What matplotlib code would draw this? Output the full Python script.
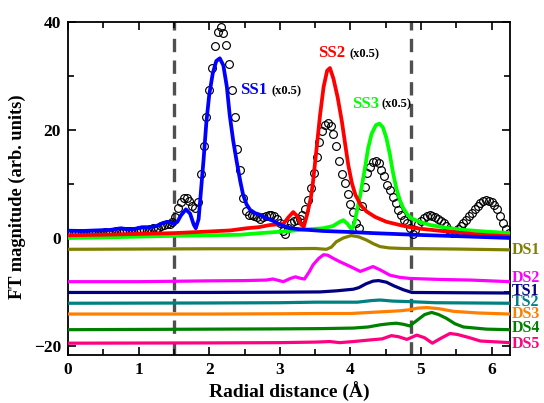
"""FT magnitude vs radial distance: experiment, single-scattering fits and offset multi-scattering paths."""

import numpy as np
import matplotlib

matplotlib.use("Agg")
import matplotlib.pyplot as plt
from matplotlib.ticker import MultipleLocator

plt.rcParams["font.family"] = ["Liberation Serif", "DejaVu Serif"]
plt.rcParams["font.weight"] = "bold"

# experimental data (open circles), sampled every 0.04 A
r_exp = np.round(np.arange(0, 157) * 0.04, 2)
ft_exp = [
    1.0, 1.0, 0.95, 0.95, 1.0, 1.0, 0.95, 0.9, 0.95, 1.0,
    1.0, 0.95, 1.0, 1.05, 1.0, 1.0, 1.1, 1.2, 1.15, 1.1,
    1.2, 1.3, 1.25, 1.2, 1.3, 1.45, 1.5, 1.4, 1.5, 1.7,
    1.8, 1.7, 1.9, 2.2, 2.4, 2.5, 2.6, 3.0, 3.8, 5.6,
    6.6, 7.4, 7.5, 6.9, 5.9, 5.5, 6.6, 11.8, 17.0, 22.5,
    27.5, 31.5, 35.5, 38.2, 39.1, 38.0, 35.8, 32.3, 27.5, 22.5,
    16.5, 12.6, 7.5, 5.0, 4.3, 4.2, 4.0, 3.8, 3.6, 3.8,
    4.1, 4.3, 4.3, 4.1, 3.6, 2.7, 1.3, 0.8, 1.8, 2.8,
    3.1, 3.3, 3.6, 4.2, 5.3, 7.0, 9.2, 12.0, 15.0, 17.8,
    19.8, 20.9, 21.4, 20.7, 19.2, 17.0, 14.3, 11.9, 10.2, 8.1,
    6.3, 4.8, 2.8, 1.8, 6.0, 9.5, 12.0, 13.2, 14.0, 14.3,
    13.9, 12.6, 11.4, 9.9, 8.9, 7.6, 6.4, 5.2, 4.3, 3.4,
    2.8, 1.8, 0.8, 1.4, 2.5, 3.1, 3.7, 4.1, 4.2, 4.1,
    3.9, 3.5, 3.2, 2.7, 2.2, 1.5, 0.9, 1.2, 1.7, 2.2,
    2.8, 3.4, 4.0, 4.6, 5.4, 6.0, 6.5, 6.9, 7.0, 6.9,
    6.7, 6.2, 5.3, 4.1, 2.8, 1.6, 1.0,
]

# single-scattering paths (scaled x0.5)
ss1_r = [0, 0.2, 0.4, 0.6, 0.75, 0.85, 0.95, 1.05, 1.15, 1.25, 1.35, 1.42, 1.5,
         1.55, 1.6, 1.67, 1.73, 1.78, 1.81, 1.85, 1.89, 1.92, 1.96, 2.0, 2.05,
         2.1, 2.15, 2.2, 2.25, 2.29, 2.34, 2.39, 2.44, 2.48, 2.53, 2.58, 2.65,
         2.72, 2.8, 2.9, 3.0, 3.14, 3.3, 3.61, 4.0, 4.32, 5.0, 5.6, 6.26]
ss1_ft = [1.35, 1.3, 1.4, 1.5, 1.8, 1.6, 1.7, 2.0, 2.0, 2.2, 2.8, 3.0, 2.6,
          3.0, 4.2, 5.3, 4.5, 2.5, 1.8, 3.5, 9.8, 14.5, 21.5, 26.5, 30.5,
          32.8, 33.3, 32.0, 28.0, 22.8, 18.0, 14.1, 10.5, 8.0, 6.2, 5.2, 4.6,
          4.3, 3.7, 3.2, 2.5, 1.8, 1.6, 1.3, 1.1, 0.9, 0.55, 0.3, 0.0]

ss2_r = [0, 0.5, 1.0, 1.5, 2.0, 2.3, 2.53, 2.7, 2.86, 2.95, 3.05, 3.12, 3.19,
         3.25, 3.3, 3.34, 3.39, 3.44, 3.47, 3.52, 3.57, 3.62, 3.67, 3.71, 3.76,
         3.82, 3.88, 3.93, 3.97, 4.02, 4.07, 4.15, 4.23, 4.35, 4.51, 4.7, 4.84,
         5.0, 5.36, 5.84, 6.26]
ss2_ft = [0.5, 0.6, 0.75, 0.9, 1.2, 1.4, 1.8, 2.0, 2.4, 2.5, 2.6, 3.8, 4.8,
          4.0, 2.5, 2.1, 4.5, 7.5, 10.4, 16.5, 22.8, 28.0, 31.0, 31.5, 29.5,
          26.0, 21.5, 17.0, 13.5, 10.2, 8.0, 6.0, 4.9, 3.9, 3.0, 2.4, 2.0,
          1.7, 1.2, 0.6, 0.3]

ss3_r = [0, 0.5, 1.0, 1.5, 2.0, 2.44, 2.72, 3.05, 3.3, 3.61, 3.75, 3.85, 3.9,
         3.96, 4.02, 4.06, 4.1, 4.14, 4.2, 4.25, 4.3, 4.36, 4.41, 4.46, 4.51,
         4.56, 4.6, 4.65, 4.7, 4.75, 4.81, 4.87, 5.0, 5.13, 5.35, 5.6, 5.9, 6.26]
ss3_ft = [0.0, 0.1, 0.25, 0.4, 0.5, 0.6, 0.9, 1.2, 1.5, 1.8, 2.2, 3.0, 3.3,
          2.6, 1.5, 3.0, 5.5, 8.0, 12.5, 16.6, 19.3, 20.9, 21.2, 20.5, 18.5,
          15.4, 12.3, 9.2, 7.0, 5.5, 4.3, 3.6, 2.9, 2.4, 1.9, 1.5, 1.2, 0.9]

# multiple-scattering paths, already shifted down
ds1_r = [0, 1.0, 2.0, 3.0, 3.5, 3.66, 3.73, 3.8, 3.9, 4.01, 4.12, 4.23, 4.33,
         4.42, 4.55, 4.75, 5.5, 6.26]
ds1_ft = [-2.1, -2.05, -2.0, -2.0, -1.95, -2.1, -1.7, -0.7, 0.0, 0.45, 0.2,
          -0.4, -1.1, -1.6, -1.85, -1.95, -2.05, -2.2]

ds2_r = [0, 1.0, 2.0, 2.5, 2.81, 2.9, 3.05, 3.15, 3.22, 3.3, 3.35, 3.42, 3.47,
         3.55, 3.62, 3.68, 3.76, 3.85, 4.0, 4.14, 4.22, 4.32, 4.42, 4.56, 4.7,
         4.84, 5.3, 5.7, 6.26]
ds2_ft = [-8.1, -8.1, -7.95, -7.9, -7.8, -7.6, -8.1, -7.5, -7.2, -7.5, -7.6,
          -6.2, -5.0, -3.8, -3.1, -3.2, -3.8, -4.4, -5.3, -6.2, -5.8, -5.3,
          -5.9, -6.9, -7.3, -7.5, -7.7, -7.8, -8.1]

ts1_r = [0, 2.0, 3.0, 3.57, 3.8, 4.04, 4.12, 4.22, 4.32, 4.4, 4.51, 4.62, 4.75,
         4.87, 5.5, 6.26]
ts1_ft = [-10.1, -10.1, -10.05, -10.0, -9.8, -9.5, -9.2, -8.5, -8.0, -7.9,
          -8.2, -8.9, -9.6, -10.1, -10.15, -10.2]

ts2_r = [0, 2.0, 3.0, 3.5, 3.8, 4.1, 4.3, 4.42, 4.6, 4.84, 5.2, 6.26]
ts2_ft = [-12.1, -12.05, -12.0, -11.9, -11.9, -11.9, -11.6, -11.5, -11.7,
          -11.8, -12.0, -12.1]

ds3_r = [0, 2.0, 3.0, 3.6, 4.0, 4.42, 4.7, 4.84, 4.95, 5.08, 5.25, 5.46, 5.8, 6.26]
ds3_ft = [-14.1, -14.1, -14.05, -14.0, -14.0, -13.7, -13.5, -13.3, -13.0,
          -12.9, -13.1, -13.6, -13.9, -14.1]

ds4_r = [0, 2.0, 3.0, 3.6, 4.04, 4.25, 4.42, 4.55, 4.65, 4.75, 4.84, 4.94,
         5.05, 5.15, 5.25, 5.36, 5.48, 5.6, 5.93, 6.26]
ds4_ft = [-17.0, -16.9, -16.85, -16.8, -16.7, -16.5, -16.1, -15.9, -15.8,
          -16.0, -16.3, -15.3, -14.2, -13.8, -14.2, -14.9, -15.9, -16.5,
          -16.9, -17.0]

ds5_r = [0, 2.0, 3.0, 3.5, 3.71, 3.85, 4.04, 4.28, 4.45, 4.58, 4.68, 4.8,
         4.94, 5.05, 5.16, 5.28, 5.41, 5.52, 5.69, 5.84, 6.26]
ds5_ft = [-19.5, -19.45, -19.4, -19.3, -19.2, -19.4, -19.2, -18.9, -18.7,
          -18.1, -18.3, -18.8, -18.0, -18.5, -19.5, -18.6, -17.7, -17.9,
          -18.5, -19.1, -19.4]

offset_paths = [
    ("DS1", ds1_r, ds1_ft, "#808000", -2.2),
    ("DS2", ds2_r, ds2_ft, "#ff00ff", -7.4),
    ("TS1", ts1_r, ts1_ft, "#000080", -9.8),
    ("TS2", ts2_r, ts2_ft, "#008080", -11.9),
    ("DS3", ds3_r, ds3_ft, "#ff8000", -14.1),
    ("DS4", ds4_r, ds4_ft, "#008000", -16.7),
    ("DS5", ds5_r, ds5_ft, "#ff0080", -19.6),
]

fit_window = [1.5, 4.86]

fig = plt.figure(figsize=(5.44, 4.03), dpi=100)
ax = fig.add_axes([0.125, 0.119, 0.8125, 0.826])

for xv in fit_window:
    ax.axvline(xv, color="#505050", lw=2.4, dashes=(4, 2.5), zorder=1)

ax.plot(r_exp, ft_exp, "o", ms=5.6, mfc="none", mec="black", mew=0.85, zorder=2)

for name, r, ft, col, ylab in offset_paths:
    ax.plot(r, ft, color=col, lw=2.3, zorder=3, solid_joinstyle="round")
    ax.text(6.29, ylab, name, color=col, fontsize=11.5, fontweight="bold",
            va="center", ha="left", clip_on=False)

ax.plot(ss3_r, ss3_ft, color="#00ff00", lw=2.7, zorder=4, solid_joinstyle="round")
ax.plot(ss2_r, ss2_ft, color="#ff0000", lw=2.7, zorder=4, solid_joinstyle="round")
ax.plot(ss1_r, ss1_ft, color="#0000ff", lw=2.7, zorder=5, solid_joinstyle="round")

ax.text(2.44, 27.4, "SS1", color="#0000ff", fontsize=12, fontweight="bold", va="center")
ax.text(2.88, 27.2, "(x0.5)", color="black", fontsize=9, fontweight="bold", va="center")
ax.text(3.54, 34.3, "SS2", color="#ff0000", fontsize=12, fontweight="bold", va="center")
ax.text(3.99, 34.1, "(x0.5)", color="black", fontsize=9, fontweight="bold", va="center")
ax.text(4.02, 24.9, "SS3", color="#00ff00", fontsize=12, fontweight="bold", va="center")
ax.text(4.44, 24.7, "(x0.5)", color="black", fontsize=9, fontweight="bold", va="center")

ax.set_xlim(0, 6.26)
ax.set_ylim(-21.7, 40)
ax.xaxis.set_major_locator(MultipleLocator(1))
ax.xaxis.set_minor_locator(MultipleLocator(0.5))
ax.yaxis.set_major_locator(MultipleLocator(20))
ax.yaxis.set_minor_locator(MultipleLocator(10))
ax.tick_params(which="both", direction="in", top=True, right=True, width=1.2)
ax.tick_params(which="major", length=6, labelsize=12.5, pad=5)
ax.tick_params(which="minor", length=4)
for lab in ax.get_xticklabels() + ax.get_yticklabels():
    lab.set_fontweight("bold")
for sp in ax.spines.values():
    sp.set_linewidth(1.3)

ax.set_xlabel("Radial distance (Å)", fontsize=14, fontweight="bold", labelpad=3)
ax.set_ylabel("FT magnitude (arb. units)", fontsize=13.2, fontweight="bold")
ax.yaxis.set_label_coords(-0.095, 0.477)

fig.savefig("out.png", dpi=100)
